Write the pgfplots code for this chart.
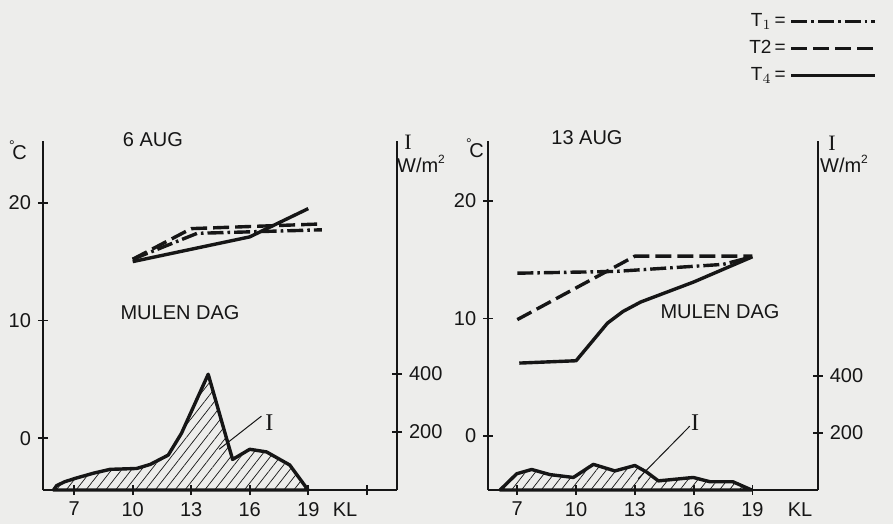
\documentclass[border=0pt]{standalone}
\usepackage{pgfplots}
\pgfplotsset{compat=1.18}
\usetikzlibrary{patterns.meta}
\usepackage{fontspec}
\setmainfont{Liberation Sans}
\newfontfamily\serifI{Liberation Serif}

\definecolor{paper}{RGB}{237,237,235}
\definecolor{ink}{RGB}{22,22,22}

\pgfplotsset{
  panel/.style={
    scale only axis, height=174.5pt, clip=false,
    tick align=center, major tick length=5pt,
    every tick/.style={line width=0.9pt, ink},
    tick label style={font=\fontsize{10}{12}\selectfont, text=ink},
    /pgf/number format/assume math mode=true,
  },
  plainlines/.style={
    axis line style={line width=0.9pt, ink},
    every outer x axis line/.append style={-},
    every outer y axis line/.append style={-},
    every inner x axis line/.append style={-},
    every inner y axis line/.append style={-},
    x axis line style={-}, y axis line style={-},
  },
  templine/.style={line width=1.7pt, ink, line join=round},
  T1/.style={templine, dash pattern=on 8pt off 2pt on 1.3pt off 2pt},
  T2/.style={templine, dash pattern=on 8pt off 3pt},
  T4/.style={templine},
  irr/.style={line width=1.7pt, ink, line join=round,
    pattern={Lines[angle=52, distance=3.9pt, line width=0.35pt]}, pattern color=ink},
}

\begin{document}
\begin{tikzpicture}
\useasboundingbox (0,0) rectangle (446.5pt,262pt);
\fill[paper] (0,0) rectangle (446.5pt,262pt);

% ---------- 6 AUG: temperatures ----------
\begin{axis}[panel, at={(21.5pt,17pt)}, anchor=south west, width=177pt,
  xmin=5.4, xmax=23.55, ymin=-4.39, ymax=25.24,
  axis x line=bottom, axis y line=left, plainlines,
  xtick={7,10,13,16,19,22}, xticklabels={7,10,13,16,19,{}},
  ytick={0,10,20}]
\addplot[T1] coordinates {(10,15.2) (13.3,17.4) (19.7,17.7)};
\addplot[T2] coordinates {(10,15.2) (13,17.8) (19.7,18.2)};
\addplot[T4] coordinates {(10,15.0) (16,17.1) (19,19.5)};
\end{axis}

% ---------- 6 AUG: irradiance ----------
\begin{axis}[panel, at={(21.5pt,17pt)}, anchor=south west, width=177pt,
  xmin=5.4, xmax=23.55, ymin=0, ymax=1200,
  axis y line=right, axis x line=none, plainlines, ytick={200,400}]
\addplot[irr] coordinates {(5.94,0) (6.1,15) (6.5,28) (7.05,40) (8.0,58)
  (8.84,71) (10.2,74) (10.9,88) (11.82,120) (12.5,195) (13.87,398)
  (15.12,105) (16.0,140) (16.86,131) (18.05,86) (18.99,0)} \closedcycle;
\draw[ink, line width=0.5pt] (axis cs:16.6,254) -- (axis cs:14.43,140);
\node[ink, font=\serifI\fontsize{12}{12}\selectfont] at (axis cs:17.0,232) {I};
\end{axis}

% ---------- 13 AUG: temperatures ----------
\begin{axis}[panel, at={(244.15pt,17pt)}, anchor=south west, width=164.7pt,
  xmin=5.52, xmax=22.33, ymin=-4.6, ymax=25.1,
  axis x line=bottom, axis y line=left, plainlines,
  xtick={7,10,13,16,19}, ytick={0,10,20},
  legend plot pos=right, legend cell align=right,
  legend style={draw=none, fill=none, anchor=north east, at={(1.2,1.39)},
    font=\fontsize{9.5}{11}\selectfont, row sep=1.5pt, text=ink},
  legend image code/.code={\draw[#1] (0pt,0pt) -- (42pt,0pt);}]
\addplot[T1] coordinates {(7,13.85) (12,14.0) (17.5,14.6) (19,15.25)};
\addplot[T2] coordinates {(7,9.9) (10,12.6) (13,15.3) (19,15.3)};
\addplot[T4] coordinates {(7.1,6.2) (10,6.4) (10.8,8.0) (11.6,9.6)
  (12.4,10.6) (13.3,11.4) (16,13.1) (19,15.25)};
\legend{T$_1$\,=, T2\,=, T$_4$\,=}
\end{axis}

% ---------- 13 AUG: irradiance ----------
\begin{axis}[panel, at={(244.15pt,17pt)}, anchor=south west, width=164.7pt,
  xmin=5.52, xmax=22.33, ymin=0, ymax=1225,
  axis y line=right, axis x line=none, plainlines, ytick={200,400}]
\addplot[irr] coordinates {(6.12,0) (6.97,57) (7.73,72) (8.67,54) (9.86,44)
  (10.88,90) (11.98,67) (13.0,86) (13.6,63) (14.2,32) (15.98,44)
  (16.83,29) (18.0,29) (18.96,0)} \closedcycle;
\draw[ink, line width=0.5pt] (axis cs:15.8,224) -- (axis cs:13.17,40);
\node[ink, font=\serifI\fontsize{12}{12}\selectfont] at (axis cs:16.07,236) {I};
\end{axis}

% ---------- titles and axis units ----------
\begin{scope}[every node/.style={text=ink, font=\fontsize{10}{12}\selectfont}]
\node at (76.5pt,192pt) {6 AUG};
\node at (293.5pt,193pt) {13 AUG};
\node at (90pt,105.5pt) {MULEN DAG};
\node at (360pt,106pt) {MULEN DAG};
\node at (172.5pt,7pt) {KL};
\node at (400pt,7pt) {KL};
\node at (9pt,187pt) {\raisebox{0.9ex}{\fontsize{7}{7}\selectfont °}\kern-1.2pt C};
\node at (237.5pt,188pt) {\raisebox{0.9ex}{\fontsize{7}{7}\selectfont °}\kern-1.2pt C};
\node[font=\serifI\fontsize{11}{11}\selectfont] at (204pt,191pt) {I};
\node at (210.5pt,180pt) {W/m\raisebox{0.9ex}{\fontsize{6}{6}\selectfont 2}};
\node[font=\serifI\fontsize{11}{11}\selectfont] at (416pt,190.5pt) {I};
\node at (422pt,180pt) {W/m\raisebox{0.9ex}{\fontsize{6}{6}\selectfont 2}};
\end{scope}
\end{tikzpicture}
\end{document}
